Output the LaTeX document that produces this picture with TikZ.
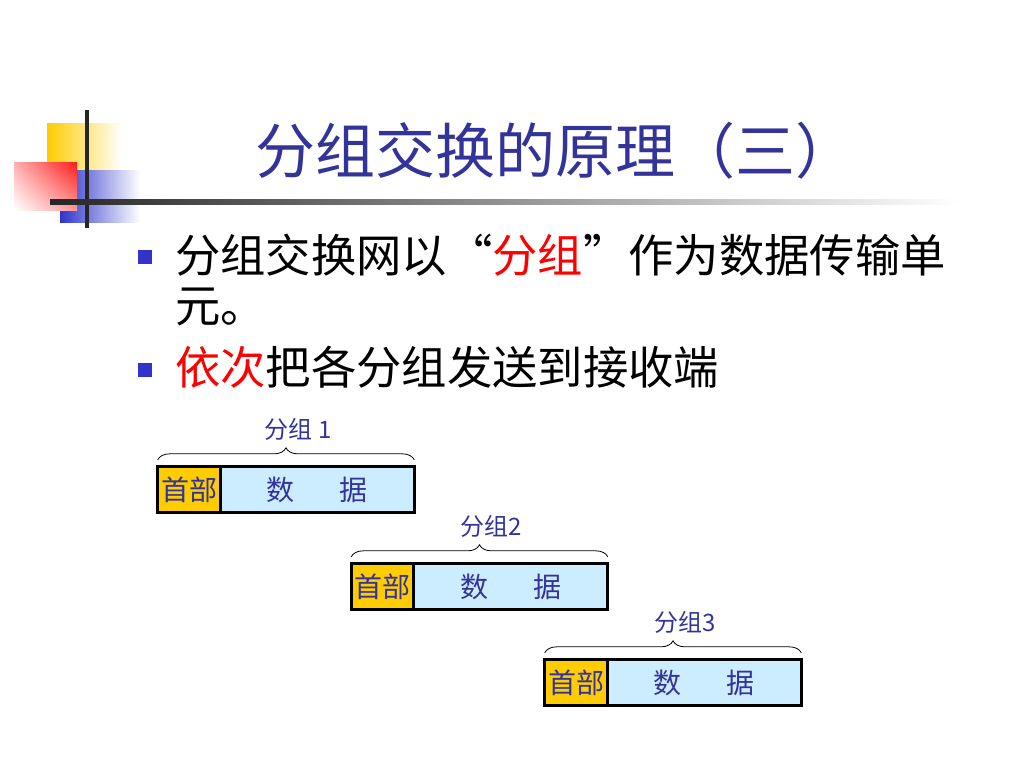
\documentclass[tikz,border=0pt]{standalone}
\usepackage{fontspec}
\setmainfont{Noto Sans CJK SC}
\usetikzlibrary{positioning,decorations.pathreplacing,shadings}
\definecolor{titleblue}{HTML}{333399}
\definecolor{textblue}{HTML}{333399}
\definecolor{bulletblue}{HTML}{3333CC}
\definecolor{hdryellow}{HTML}{FFCC00}
\definecolor{datblue}{HTML}{CCECFF}
\definecolor{logoyellow}{HTML}{FFCC00}
\definecolor{logored}{HTML}{FF1A1A}
\definecolor{logoblue}{HTML}{2F35CC}

\begin{document}
\begin{tikzpicture}[x=0.75pt,y=-0.75pt]
      \tikzset{
        hdrbox/.style={draw=black, line width=2.2pt, fill=hdryellow, minimum width=47pt,
          minimum height=34.5pt, inner sep=0pt, outer sep=0pt, text=textblue,
          font=\fontsize{21}{21}\selectfont},
        datbox/.style={hdrbox, fill=datblue, minimum width=145.5pt},
        brace/.style={decorate, decoration={brace, amplitude=9pt}, line width=0.6pt},
        grouplabel/.style={text=textblue, font=\fontsize{18}{18}\selectfont, inner sep=0pt},
        bullet/.style={fill=bulletblue, minimum size=10.5pt, inner sep=0pt},
        bodytext/.style={font=\fontsize{34}{37.5}\selectfont, inner sep=0pt, align=left},
        titletext/.style={font=\fontsize{45}{45}\selectfont, text=titleblue, inner sep=0pt}
      }
      \useasboundingbox (0,0) rectangle (1024,768);
      % logo
      \shade [left color=logoyellow, middle color=logoyellow, right color=white] (47,123) rectangle (122,172);
      \shade [left color=logoblue, middle color=logoblue, right color=white] (60,170) rectangle (140,222);
      \shade [upper right=logored, lower left=white, upper left=logored!35, lower right=logored!45] (14,162) rectangle (77,210);
      \draw [line width=2.4pt, black!85] (87,110) -- (87,228);
      \shade [left color=black!85, right color=white] (50,199.5) rectangle (960,204);
      % title
      \node [titletext, anchor=base west] (title) at (255,173) {分组交换的原理（三）};
      % bullets
      \node [bullet] (b1) at (145,257) {};
      \node [bodytext, anchor=base west] (item1) at (175,322) {分组交换网以“\textcolor{red}{分组}”作为数据传输单\\元。};
      \node [bullet] (b2) at (145,370) {};
      \node [bodytext, anchor=base west] (item2) at (175,384) {\textcolor{red}{依次}把各分组发送到接收端};
      % packet 1
      \node [hdrbox] (hdr1) at (189,489.5) {首部};
      \node [datbox, right=0pt of hdr1] (dat1) {数\hspace{1.6em}据};
      \draw [brace] ([yshift=5pt]hdr1.north west) -- ([yshift=5pt]dat1.north east)
        node [midway, above=14pt, xshift=9pt, grouplabel] (lbl1) {分组 1};
      % packet 2
      \node [hdrbox] (hdr2) at (382.5,586.5) {首部};
      \node [datbox, right=0pt of hdr2] (dat2) {数\hspace{1.6em}据};
      \draw [brace] ([yshift=5pt]hdr2.north west) -- ([yshift=5pt]dat2.north east)
        node [midway, above=14pt, xshift=9pt, grouplabel] (lbl2) {分组2};
      % packet 3
      \node [hdrbox] (hdr3) at (576,682.5) {首部};
      \node [datbox, right=0pt of hdr3] (dat3) {数\hspace{1.6em}据};
      \draw [brace] ([yshift=5pt]hdr3.north west) -- ([yshift=5pt]dat3.north east)
        node [midway, above=14pt, xshift=9pt, grouplabel] (lbl3) {分组3};
\end{tikzpicture}
\end{document}
